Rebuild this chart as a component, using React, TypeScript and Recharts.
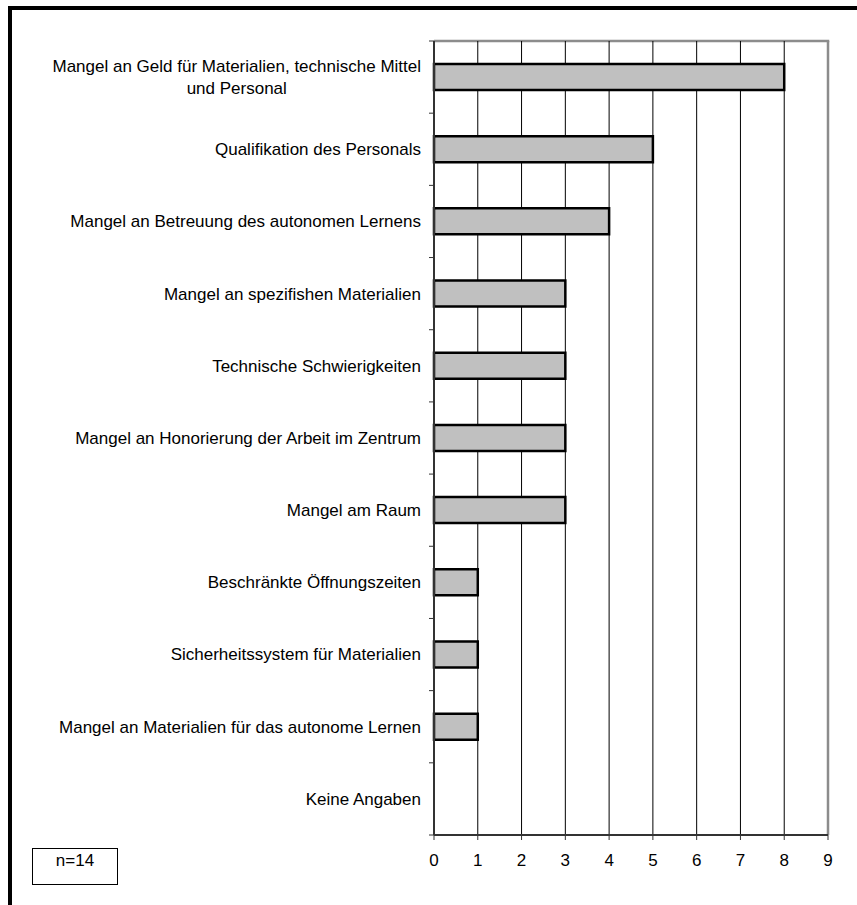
import React, { useLayoutEffect, useRef, useState } from "react";
import {
  BarChart,
  Bar,
  XAxis,
  YAxis,
  CartesianGrid,
} from "recharts";

const categories = [
  "Mangel an Geld für Materialien, technische Mittel\nund Personal",
  "Qualifikation des Personals",
  "Mangel an Betreuung des autonomen Lernens",
  "Mangel an spezifishen Materialien",
  "Technische Schwierigkeiten",
  "Mangel an Honorierung der Arbeit im Zentrum",
  "Mangel am Raum",
  "Beschränkte Öffnungszeiten",
  "Sicherheitssystem für Materialien",
  "Mangel an Materialien für das autonome Lernen",
  "Keine Angaben",
];
const counts = [8, 5, 4, 3, 3, 3, 3, 1, 1, 1, 0];
const xTicks = [0, 1, 2, 3, 4, 5, 6, 7, 8, 9];
const sampleNote = "n=14";

const chartData = categories.map((name, i) => ({ name, value: counts[i] }));

const W = 857;
const H = 905;
const PLOT_LEFT = 434;
const TOP = 41;
const BOTTOM = 70;
const BAND = (H - TOP - BOTTOM) / categories.length;
const FONT = "'Liberation Sans', Arial, sans-serif";
const FRAME_GRAY = "#8c8c8c";
const LINE_GAP = 22;

// wrapped label: first line right aligned, following lines centred under it
const WrappedLabel = ({ lines, right, y }: any) => {
  const firstRef = useRef<SVGTextElement>(null);
  const [cx, setCx] = useState(right - lines[0].length * 3.8);
  useLayoutEffect(() => {
    if (firstRef.current) {
      const b = firstRef.current.getBBox();
      setCx(b.x + b.width / 2);
    }
  }, []);
  const start = -((lines.length - 1) * LINE_GAP) / 2;
  return (
    <g fontSize={17} fontFamily={FONT} fill="#000">
      <text ref={firstRef} x={right} y={y + start} dy="0.35em" textAnchor="end">
        {lines[0]}
      </text>
      {lines.slice(1).map((l: string, i: number) => (
        <text key={i} x={cx} y={y + start + (i + 1) * LINE_GAP} dy="0.35em" textAnchor="middle">
          {l}
        </text>
      ))}
    </g>
  );
};

const CategoryTick = ({ y, payload, index }: any) => {
  const lines = String(payload.value).split("\n");
  const right = PLOT_LEFT - 13;
  return (
    <g>
      <line x1={PLOT_LEFT - 5} x2={PLOT_LEFT} y1={y - BAND / 2} y2={y - BAND / 2} stroke="#333" strokeWidth={1} />
      {index === categories.length - 1 && (
        <line x1={PLOT_LEFT - 5} x2={PLOT_LEFT} y1={y + BAND / 2} y2={y + BAND / 2} stroke="#333" strokeWidth={1} />
      )}
      <WrappedLabel lines={lines} right={right} y={y} />
    </g>
  );
};

// grid: black verticals, the last one (x=9) is the grey plot frame
const VerticalLine = (p: any) => {
  const last = p.index === xTicks.length - 1;
  return (
    <line
      key={p.key}
      x1={p.x1}
      x2={p.x2}
      y1={p.y1}
      y2={p.y2}
      stroke={last ? FRAME_GRAY : "#000"}
      strokeWidth={last ? 2.5 : 1}
    />
  );
};

// only the top edge of the plot frame
const HorizontalLine = (p: any) => {
  if (p.index !== 0) return <g key={p.key} />;
  return (
    <line key={p.key} x1={p.x1} x2={p.x2 + 1.25} y1={TOP} y2={TOP} stroke={FRAME_GRAY} strokeWidth={2.5} />
  );
};

const App = () => {
  return (
    <div style={{ position: "absolute", left: 0, top: 0, width: W, height: H, background: "#fff" }}>
      <div
        style={{
          position: "absolute",
          left: 8,
          top: 6,
          width: W - 8,
          height: H - 6,
          boxSizing: "border-box",
          borderTop: "4px solid #000",
          borderLeft: "4.5px solid #000",
        }}
      />
      <BarChart
        width={W}
        height={H}
        data={chartData}
        layout="vertical"
        margin={{ top: TOP, right: 29, left: 0, bottom: 0 }}
      >
        <CartesianGrid vertical={VerticalLine} horizontal={HorizontalLine} />
        <XAxis
          type="number"
          domain={[0, 9]}
          ticks={xTicks}
          interval={0}
          height={BOTTOM}
          tickSize={5}
          tickMargin={14}
          axisLine={{ stroke: "#333", strokeWidth: 2 }}
          tickLine={{ stroke: "#333" }}
          tick={{ fill: "#000", fontSize: 17, fontFamily: FONT }}
        />
        <YAxis
          type="category"
          dataKey="name"
          width={PLOT_LEFT}
          interval={0}
          tickLine={false}
          axisLine={{ stroke: "#333", strokeWidth: 2 }}
          tick={<CategoryTick />}
        />
        <Bar
          dataKey="value"
          fill="#c0c0c0"
          stroke="#000"
          strokeWidth={2.5}
          barSize={26}
          isAnimationActive={false}
        />
      </BarChart>
      <div
        style={{
          position: "absolute",
          left: 32,
          top: 848,
          width: 86,
          height: 37,
          boxSizing: "border-box",
          border: "1.5px solid #000",
          fontFamily: FONT,
          fontSize: 17,
          lineHeight: "24px",
          textAlign: "center",
        }}
      >
        {sampleNote}
      </div>
    </div>
  );
};

export default App;
